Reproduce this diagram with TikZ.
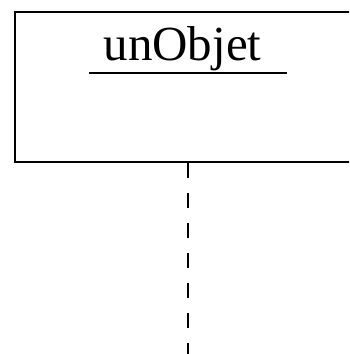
\documentclass[tikz,border=0pt]{standalone}
\usepackage{fontspec}
\setmainfont{Liberation Serif}
\usepackage{tikz}
\usetikzlibrary{positioning,calc}

\tikzset{
    objbox/.style={draw, line width=2pt, anchor=north west, minimum width=340pt, minimum height=150pt, inner sep=0pt},
    lifeline/.style={line width=2pt, dash pattern=on 14.5pt off 15.5pt},
    objname/.style={anchor=base, inner sep=0pt, font=\fontsize{49}{59}\selectfont}
}

\begin{document}
\begin{tikzpicture}[x=1pt,y=-1pt]
    \useasboundingbox (0,0) rectangle (349,354);
    \clip (0,0) rectangle (349,354);
    % Object
    \node[objbox] (obj) at (14.3,11) {};
    \node[objname] (name) at (182.5,60) {unObjet};
    \draw[line width=2pt] ([xshift=-14pt,yshift=-12.7pt]name.base west) -- ([xshift=25pt,yshift=-12.7pt]name.base east);

    % Lifeline
    \coordinate (end) at (188.3,354);
    \draw[lifeline] (obj.south -| end) -- (end);
\end{tikzpicture}
\end{document}
